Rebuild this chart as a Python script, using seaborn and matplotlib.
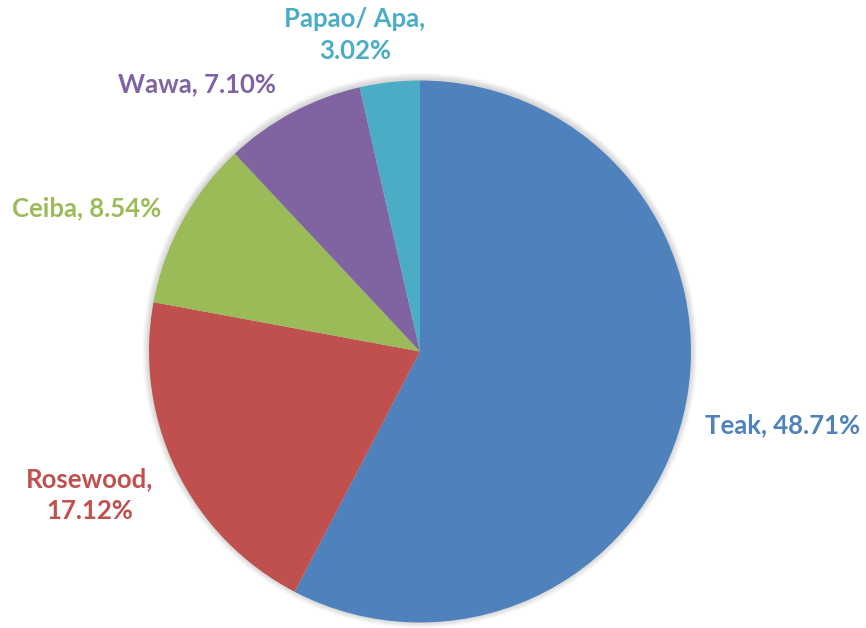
import matplotlib
matplotlib.use("Agg")
import matplotlib.pyplot as plt
import seaborn as sns
from matplotlib.patches import Circle

# данные для круговой диаграммы
species = ["Teak", "Rosewood", "Ceiba", "Wawa", "Papao/ Apa"]
shares = [48.71, 17.12, 8.54, 7.10, 3.02]
label_text = ["Teak, 48.71%", "Rosewood,\n17.12%", "Ceiba, 8.54%", "Wawa, 7.10%", "Papao/ Apa,\n3.02%"]

colors = ["#4F81BD", "#C0504D", "#9BBB59", "#8064A2", "#4BACC6"]

sns.set_theme(style="white")
plt.rcParams['font.family'] = ['Lato', 'DejaVu Sans']

W, H = 866, 628
fig = plt.figure(figsize=(W / 100, H / 100), dpi=100)
ax = fig.add_axes([0, 0, 1, 1])
ax.set_xlim(0, W)
ax.set_ylim(0, H)
ax.set_aspect("equal")
ax.axis("off")

cx, cy, r = 420, H - 351.5, 271

# мягкая тень вокруг круга
for i in range(8):
    ax.add_patch(Circle((cx, cy + 1), r + 1 + i * 0.8, color="black",
                        alpha=0.018, lw=0, zorder=0))

wedges, texts = ax.pie(shares, labels=label_text, colors=colors, startangle=90,
                       counterclock=False, center=(cx, cy), radius=r,
                       wedgeprops=dict(linewidth=0), frame=True)

# позиции подписей (пиксели)
label_xy = [(783, H - 425), (90, H - 495), (87, H - 208), (197, H - 84), (355, H - 35)]
for t, (x, y), c in zip(texts, label_xy, colors):
    t.set_position((x, y))
    t.set_ha("center")
    t.set_va("center")
    t.set_color(c)
    t.set_fontsize(18.5)
    t.set_fontweight("bold")
    t.set_multialignment("center")
    t.set_linespacing(1.4)

ax.set_xlim(0, W)
ax.set_ylim(0, H)
ax.axis("off")
fig.savefig("out.png", dpi=100)
